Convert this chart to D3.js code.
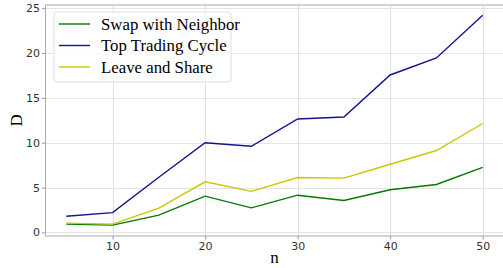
<!DOCTYPE html>
<html>
<head>
<meta charset="utf-8">
<script src="https://cdn.jsdelivr.net/npm/d3@7"></script>
<style>
  body { margin: 0; background: #fff; }
  svg { display: block; }
  .tick text { font-family: "DejaVu Sans", sans-serif; font-size: 11px; fill: #333; }
  .legend text { font-family: "Liberation Serif", "Times New Roman", serif; font-size: 16.8px; fill: #000; }
</style>
</head>
<body>
<svg width="503" height="268"></svg>
<script>
// data
const nValues = [5, 10, 15, 20, 25, 30, 35, 40, 45, 50];
const swapNeighbor = [0.92, 0.81, 1.93, 4.04, 2.74, 4.15, 3.56, 4.75, 5.34, 7.24];
const topTrading = [1.8, 2.2, 6.15, 10.0, 9.6, 12.65, 12.87, 17.55, 19.45, 24.2];
const leaveShare = [1.04, 0.92, 2.7, 5.64, 4.58, 6.12, 6.05, 7.6, 9.13, 12.14];
const xTicks = [10, 20, 30, 40, 50];
const yTicks = [0, 5, 10, 15, 20, 25];

const series = [
    { name: "Swap with Neighbor", values: swapNeighbor, colour: "#007a00" },
    { name: "Top Trading Cycle", values: topTrading, colour: "#13138f" },
    { name: "Leave and Share", values: leaveShare, colour: "#c8c800" },
];

//layout
const plotL = 45.5, plotR = 503.5, plotT = 5, plotB = 236;
const svg = d3.select("svg");

const x = d3.scaleLinear().domain([2.75, 52.25]).range([plotL, plotR]);
const y = d3.scaleLinear().domain([-0.4, 25.35]).range([plotB, plotT]);

//grid
const grid = svg.append("g").attr("class", "grid");
grid.selectAll(".gx")
    .data(xTicks)
    .enter()
    .append("line")
    .attr("x1", (d) => Math.round(x(d)) + 0.5)
    .attr("x2", (d) => Math.round(x(d)) + 0.5)
    .attr("y1", plotT)
    .attr("y2", plotB)
    .attr("stroke", "#dcdcdc")
    .attr("stroke-width", 0.9);
grid.selectAll(".gy")
    .data(yTicks)
    .enter()
    .append("line")
    .attr("x1", plotL)
    .attr("x2", plotR)
    .attr("y1", (d) => Math.round(y(d)) + 0.5)
    .attr("y2", (d) => Math.round(y(d)) + 0.5)
    .attr("stroke", "#e4e4e4")
    .attr("stroke-width", 1);

//axes
const xAxis = d3.axisBottom(x).tickValues(xTicks).tickSize(3.5).tickPadding(3);
const yAxis = d3.axisLeft(y).tickValues(yTicks).tickSize(3.5).tickPadding(2);

const gx = svg.append("g").attr("transform", "translate(0," + plotB + ")").call(xAxis);
const gy = svg.append("g").attr("transform", "translate(" + plotL + ",0)").call(yAxis);
[gx, gy].forEach((g) => {
    g.select(".domain").remove();
    g.selectAll(".tick line").attr("stroke", "#999");
});

//spines
const spine = "#aaaaaa";
svg.append("line").attr("x1", plotL).attr("x2", plotR).attr("y1", plotT).attr("y2", plotT).attr("stroke", spine);
svg.append("line").attr("x1", plotL).attr("x2", plotR).attr("y1", plotB).attr("y2", plotB).attr("stroke", spine);
svg.append("line").attr("x1", plotL).attr("x2", plotL).attr("y1", plotT).attr("y2", plotB).attr("stroke", spine);

//lines
const line = d3.line()
    .x((d, i) => x(nValues[i]))
    .y((d) => y(d));

svg.append("g")
    .selectAll("path")
    .data(series)
    .enter()
    .append("path")
    .attr("fill", "none")
    .attr("stroke", (d) => d.colour)
    .attr("stroke-width", 1.4)
    .attr("d", (d) => line(d.values));

//axis labels
svg.append("text")
    .attr("x", x(27.5))
    .attr("y", 263)
    .attr("text-anchor", "middle")
    .style("font-family", "Liberation Serif, serif")
    .style("font-size", "17px")
    .text("n");
svg.append("text")
    .attr("transform", "translate(22," + y(12.5) + ") rotate(-90)")
    .attr("text-anchor", "middle")
    .style("font-family", "Liberation Serif, serif")
    .style("font-size", "17px")
    .text("D");

//legend
const legend = svg.append("g").attr("class", "legend").attr("transform", "translate(54,12)");
legend.append("rect")
    .attr("width", 177)
    .attr("height", 70)
    .attr("rx", 3)
    .attr("fill", "#fff")
    .attr("fill-opacity", 0.85)
    .attr("stroke", "#e0e0e0");
const rows = legend.selectAll(".row")
    .data(series)
    .enter()
    .append("g")
    .attr("transform", (d, i) => "translate(0," + (12 + i * 21.5) + ")");
rows.append("line")
    .attr("x1", 5)
    .attr("x2", 36)
    .attr("stroke", (d) => d.colour)
    .attr("stroke-width", 1.4);
rows.append("text")
    .attr("x", 47)
    .attr("dy", "0.33em")
    .text((d) => d.name);
</script>
</body>
</html>
